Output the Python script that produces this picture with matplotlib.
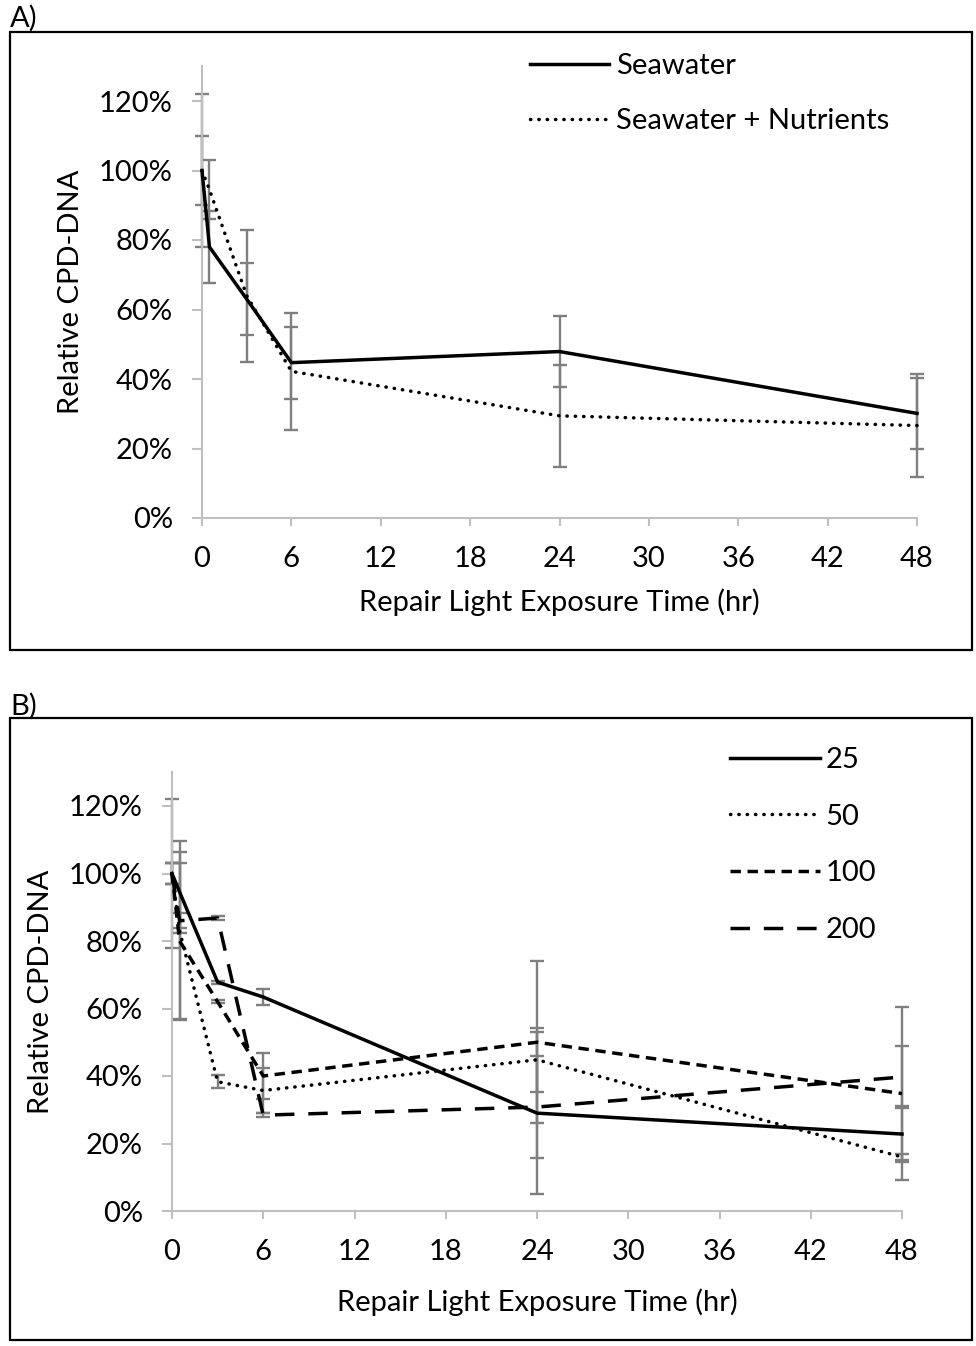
import matplotlib
matplotlib.use("Agg")
import matplotlib.pyplot as plt
from matplotlib.patches import Rectangle
from matplotlib.ticker import FuncFormatter

plt.rcParams['font.family'] = ['Lato', 'DejaVu Sans']

# ---------------- data ----------------
time_a = [0, 0.5, 3, 6, 24, 48]
seawater = [100, 78, 63, 44.7, 47.9, 30.1]
seawater_err = [10, 10.4, 10.4, 10.35, 10.3, 10.3]
nutrients = [100, 94.5, 64, 42.2, 29.4, 26.6]
nutrients_err = [22, 8.5, 19, 16.9, 14.6, 14.9]
labels_a = ["Seawater", "Seawater + Nutrients"]

time_b = [0, 0.5, 3, 6, 24, 48]
s25 = [100, 94.5, 67.8, 63.4, 29.0, 22.8]
s25_err = [22, 12, 0.4, 2.5, 24, 8.3]
s50 = [100, 83, 38.3, 35.7, 44.8, 16.0]
s50_err = [3, 26.5, 2, 6.8, 9.5, 0.9]
s100 = [100, 80, 62, 40, 50, 34.8]
s100_err = [3, 23, 0.5, 6.7, 24, 25.5]
s200 = [100, 86, 86.8, 28.4, 30.8, 39.7]
s200_err = [3, 2.2, 0.5, 0.5, 15, 9.3]
labels_b = ["25", "50", "100", "200"]

x_ticks = [0, 6, 12, 18, 24, 30, 36, 42, 48]
y_ticks = [0, 20, 40, 60, 80, 100, 120]

# ---------------- styles ----------------
W, H = 976, 1346
fig = plt.figure(figsize=(W / 100, H / 100), dpi=100)

FS = 21
AXC = '#BFBFBF'
ERRC = '#7F7F7F'
LW = 2.5
styles = {
    'solid': dict(linestyle='-'),
    'dot': dict(linestyle=(0, (0.1, 2.3)), dash_capstyle='round'),
    'sdash': dict(linestyle=(0, (3.0, 1.9))),
    'ldash': dict(linestyle=(0, (5.6, 4.0))),
}


def fr(x0, y0, x1, y1):
    return [x0 / W, 1 - y1 / H, (x1 - x0) / W, (y1 - y0) / H]


# panel frames
for (x0, y0, x1, y1) in [(10, 32, 972, 650), (10, 718, 972, 1340)]:
    fig.patches.append(Rectangle((x0 / W, 1 - y1 / H), (x1 - x0) / W, (y1 - y0) / H,
                                 transform=fig.transFigure, fill=False,
                                 edgecolor='black', linewidth=1.6))
fig.text(10 / W, 1 - 18 / H, "A)", fontsize=FS, va='center', ha='left')
fig.text(10 / W, 1 - 706 / H, "B)", fontsize=FS, va='center', ha='left')


def style_axes(ax, xlabelpad):
    ax.set_xlim(0, 48)
    ax.set_ylim(0, 130)
    ax.set_xticks(x_ticks)
    ax.set_yticks(y_ticks)
    ax.yaxis.set_major_formatter(FuncFormatter(lambda v, p: f"{int(v)}%"))
    for s in ['top', 'right']:
        ax.spines[s].set_visible(False)
    for s in ['left', 'bottom']:
        ax.spines[s].set_color(AXC)
        ax.spines[s].set_linewidth(1.5)
    ax.tick_params(axis='both', colors=AXC, labelcolor='black', labelsize=FS,
                   width=1.5)
    ax.tick_params(axis='x', length=6, pad=14, direction='out')
    ax.tick_params(axis='y', length=7, pad=14, direction='out')
    ax.set_ylabel("Relative CPD-DNA", fontsize=FS, labelpad=11)
    ax.set_xlabel("Repair Light Exposure Time (hr)", fontsize=FS, labelpad=xlabelpad)
    ax.patch.set_visible(False)


def draw(ax, t, y, e, st, label):
    ax.errorbar(t, y, yerr=e, fmt='none', ecolor=ERRC, elinewidth=1.7,
                capsize=5, capthick=1.7, zorder=2, clip_on=False)
    ax.plot(t, y, color='black', linewidth=LW, label=label, zorder=3,
            clip_on=False, **styles[st])


# ---------------- panel A ----------------
axA = fig.add_axes(fr(202, 66.25, 917, 518))
style_axes(axA, 12)
draw(axA, time_a, seawater, seawater_err, 'solid', labels_a[0])
draw(axA, time_a, nutrients, nutrients_err, 'dot', labels_a[1])
axA.legend(loc='upper left', bbox_to_anchor=(530 / W, 1 - 53 / H),
           bbox_transform=fig.transFigure, frameon=False, fontsize=FS,
           handlelength=2.7, handletextpad=0.25, labelspacing=0.99,
           borderaxespad=0, borderpad=0)

# ---------------- panel B ----------------
axB = fig.add_axes(fr(172, 772.25, 902, 1211))
style_axes(axB, 17)
draw(axB, time_b, s25, s25_err, 'solid', labels_b[0])
draw(axB, time_b, s50, s50_err, 'dot', labels_b[1])
draw(axB, time_b, s100, s100_err, 'sdash', labels_b[2])
draw(axB, time_b, s200, s200_err, 'ldash', labels_b[3])
axB.legend(loc='upper left', bbox_to_anchor=(730 / W, 1 - 747 / H),
           bbox_transform=fig.transFigure, frameon=False, fontsize=FS,
           handlelength=3.1, handletextpad=0.18, labelspacing=1.05,
           borderaxespad=0, borderpad=0)

fig.savefig("out.png", dpi=100)
